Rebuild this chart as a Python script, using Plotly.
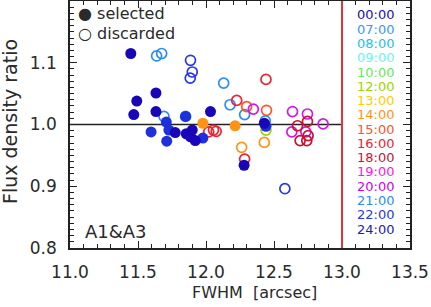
import plotly.graph_objects as go

# ---- data ----
time_labels = ["00:00", "07:00", "08:00", "09:00", "10:00", "12:00", "13:00", "14:00",
               "15:00", "16:00", "18:00", "19:00", "20:00", "21:00", "22:00", "24:00"]
time_colors = ["#2210b0", "#3a98f5", "#22c0ee", "#66f6f2", "#66e860", "#99d600", "#ffcc00", "#ff9414",
               "#ff5522", "#ee2230", "#c81432", "#ff14f0", "#d000e6", "#2c8cf5", "#2838e0", "#2418b8"]

# selected (filled)
sel_dark_x = [11.447, 11.632, 11.491, 11.469, 11.632, 12.033, 11.774, 11.855, 11.886, 11.899, 11.921, 12.280, 12.429]
sel_dark_y = [1.115, 1.051, 1.038, 1.016, 1.021, 1.021, 0.987, 0.985, 0.980, 0.991, 0.974, 0.934, 1.002]
sel_blue_x = [11.596, 11.711, 11.708, 11.727, 11.977, 11.850, 12.441]
sel_blue_y = [0.988, 0.973, 1.004, 0.991, 0.978, 1.013, 0.997]
sel_orange_x = [11.977, 12.214]
sel_orange_y = [1.002, 0.998]

# discarded (open)
dis_lblue_x = [11.637, 11.674, 12.130, 11.691, 12.177, 12.284, 11.850, 12.436]
dis_lblue_y = [1.111, 1.115, 1.067, 1.013, 1.032, 1.016, 1.013, 1.006]
dis_blue_x = [11.886, 11.899, 11.884, 12.580]
dis_blue_y = [1.104, 1.085, 1.075, 0.896]
dis_red_x = [12.226, 12.441, 12.020, 12.055, 12.075, 12.284]
dis_red_y = [1.039, 1.073, 0.988, 0.991, 0.989, 0.944]
dis_orange_x = [12.262, 12.429]
dis_orange_y = [0.963, 0.971]
dis_orred_x = [12.299, 12.445]
dis_orred_y = [1.029, 1.023]
dis_green_x = [12.441]
dis_green_y = [0.991]
dis_magenta_x = [12.348, 12.636, 12.746, 12.861, 12.631, 12.734]
dis_magenta_y = [1.025, 1.021, 1.017, 1.001, 0.988, 0.988]
dis_dred_x = [12.673, 12.746, 12.751, 12.692, 12.741]
dis_dred_y = [0.998, 1.005, 0.982, 0.974, 0.974]

x_range = [11.0, 13.5]
y_range = [0.8, 1.2]
fwhm_limit = 13.0
ref_ratio = 1.0

fig = go.Figure()

open_groups = [
    (dis_lblue_x, dis_lblue_y, "#2c8cf5"),
    (dis_blue_x, dis_blue_y, "#2838e0"),
    (dis_red_x, dis_red_y, "#ee2230"),
    (dis_orange_x, dis_orange_y, "#ff9414"),
    (dis_orred_x, dis_orred_y, "#ff5522"),
    (dis_green_x, dis_green_y, "#99d600"),
    (dis_magenta_x, dis_magenta_y, "#d814ee"),
    (dis_dred_x, dis_dred_y, "#c81432"),
]
for gx, gy, c in open_groups:
    fig.add_trace(go.Scatter(x=gx, y=gy, mode="markers",
                             marker=dict(symbol="circle-open", size=10, color=c, line=dict(width=1.7, color=c)),
                             showlegend=False, hoverinfo="skip"))

filled_groups = [
    (sel_blue_x, sel_blue_y, "#1e30dc"),
    (sel_dark_x, sel_dark_y, "#1806b8"),
    (sel_orange_x, sel_orange_y, "#ff9414"),
]
for gx, gy, c in filled_groups:
    fig.add_trace(go.Scatter(x=gx, y=gy, mode="markers",
                             marker=dict(symbol="circle", size=11, color=c, line=dict(width=0)),
                             showlegend=False, hoverinfo="skip"))

fig.add_shape(type="line", x0=x_range[0], x1=fwhm_limit, y0=ref_ratio, y1=ref_ratio,
              line=dict(color="#222222", width=1.5), layer="below")
fig.add_shape(type="line", x0=fwhm_limit, x1=fwhm_limit, y0=y_range[0], y1=y_range[1],
              line=dict(color="#e8323c", width=2))

FONT = "DejaVu Sans"
TXT = "#2a2a2a"

# plot-area pixel helpers (for text placement only)
L, R, T, B = 70, 21, 1, 59
W, H = 431, 307
pw, ph = W - L - R, H - T - B
def px(xp):
    return (xp - L) / pw
def py(yp):
    return (H - B - yp) / ph

annotations = []
# time legend
for i, (lab, col) in enumerate(zip(time_labels, time_colors)):
    annotations.append(dict(x=px(375), y=py(15 + i * 14.27), xref="paper", yref="paper",
                            text=lab, showarrow=False, xanchor="center", yanchor="middle",
                            borderpad=0,
                            font=dict(family=FONT, size=13, color=col)))
annotations += [
    dict(x=px(77), y=py(13), xref="paper", yref="paper", text="● selected", showarrow=False,
         xanchor="left", yanchor="middle", borderpad=0,
         font=dict(family=FONT, size=16, color=TXT)),
    dict(x=px(77), y=py(33), xref="paper", yref="paper", text="○ discarded", showarrow=False,
         xanchor="left", yanchor="middle", borderpad=0,
         font=dict(family=FONT, size=16, color=TXT)),
    dict(x=px(83), y=py(231), xref="paper", yref="paper", text="A1&amp;A3", showarrow=False,
         xanchor="left", yanchor="middle", font=dict(family=FONT, size=18, color=TXT)),
    dict(x=px(255), y=py(292), xref="paper", yref="paper", text="FWHM  [arcsec]", showarrow=False,
         xanchor="center", yanchor="middle", font=dict(family=FONT, size=16, color=TXT)),
    dict(x=px(10), y=py(122), xref="paper", yref="paper", text="Flux density ratio", showarrow=False,
         xanchor="center", yanchor="middle", textangle=-90, font=dict(family=FONT, size=19, color=TXT)),
]

axis_common = dict(showgrid=False, zeroline=False, showline=True, linecolor="#222222", linewidth=1.5,
                   mirror="allticks", ticks="inside", ticklen=7, tickwidth=1.2, tickcolor="#222222",
                   automargin=False,
                   tickfont=dict(family=FONT, size=17, color=TXT))

fig.update_layout(
    width=W, height=H,
    margin=dict(l=L, r=R, t=T, b=B, autoexpand=False),
    plot_bgcolor="white", paper_bgcolor="white",
    xaxis=dict(range=x_range, tickvals=[11.0, 11.5, 12.0, 12.5, 13.0, 13.5],
               ticktext=["11.0", "11.5", "12.0", "12.5", "13.0", "13.5"],
               minor=dict(dtick=0.1, ticks="inside", ticklen=4, tickcolor="#222222", tickwidth=1),
               ticklabelstandoff=8, **axis_common),
    yaxis=dict(range=y_range, tickvals=[0.8, 0.9, 1.0, 1.1, 1.2],
               ticktext=["0.8", "0.9", "1.0", "1.1", "1.2"],
               minor=dict(dtick=0.01, ticks="inside", ticklen=4, tickcolor="#222222", tickwidth=1),
               ticklabelstandoff=8, **axis_common),
    annotations=annotations,
)

fig.write_html("out.html", config={"displayModeBar": False},
               post_script="document.body.style.margin='0';document.body.style.padding='0';")
